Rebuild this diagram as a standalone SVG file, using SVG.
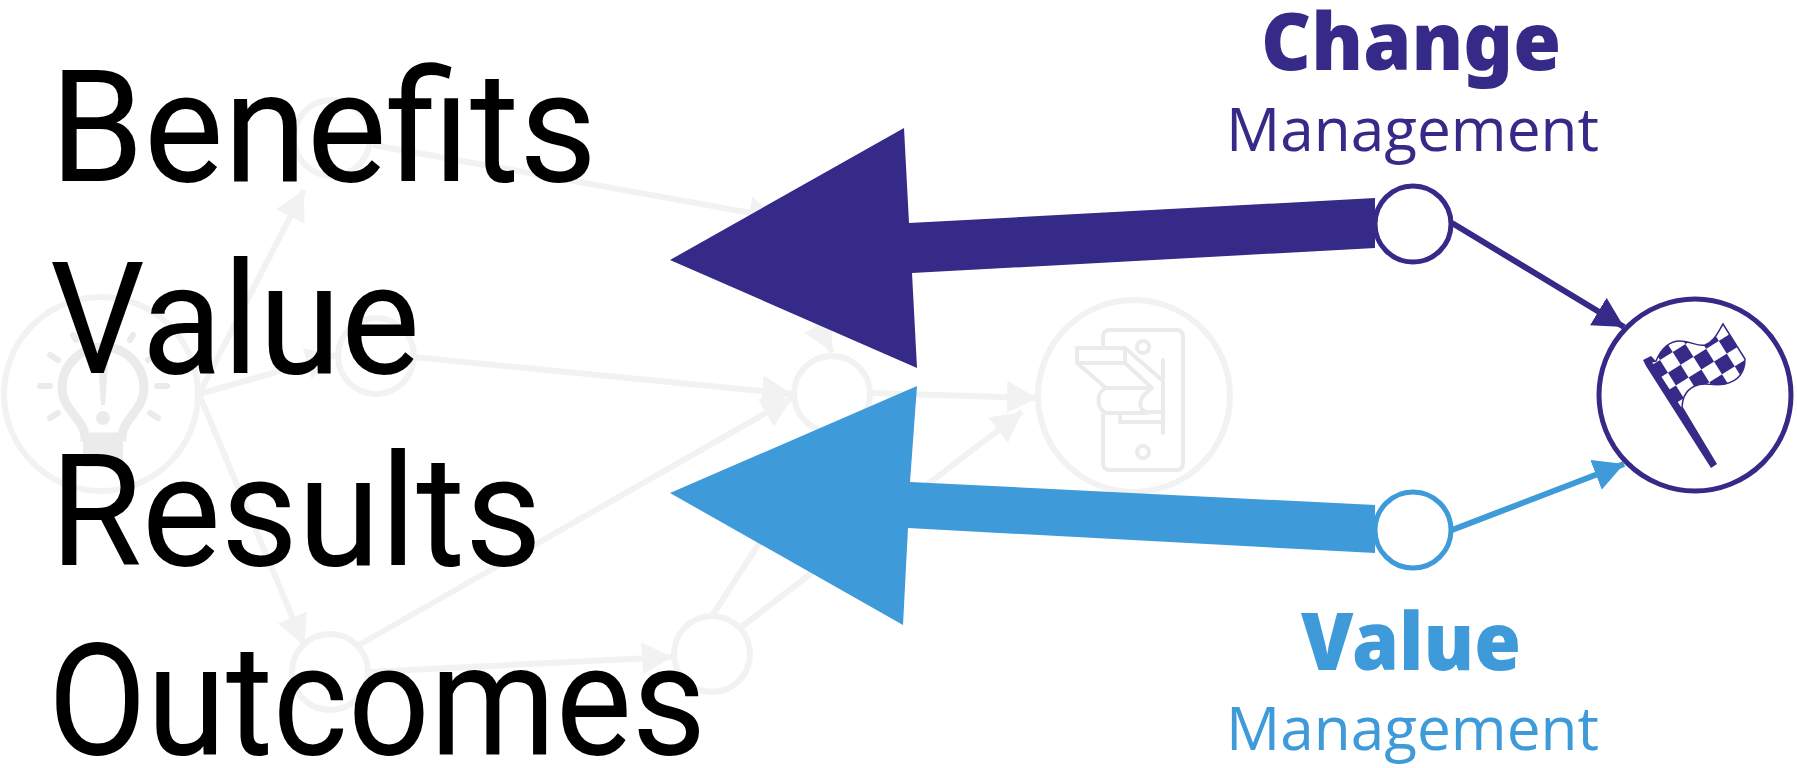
<svg xmlns="http://www.w3.org/2000/svg" width="1797" height="768" viewBox="0 0 1797 768">
<style>
.big{font-family:"Roboto","Liberation Sans",Arial,sans-serif;font-weight:400;font-size:155px;fill:#000}
.hd{font-family:"Noto Sans","Open Sans",sans-serif;font-weight:900;font-size:80px;text-anchor:middle}
.sb{font-family:"Open Sans","Noto Sans",sans-serif;font-size:60px}
.dk{fill:#352a87}.bl{fill:#3e9ad9}
.ge{stroke:#f2f2f2;stroke-width:6;fill:none}
.gn{stroke:#f2f2f2;stroke-width:6;fill:none}
.ic{stroke:#ebebeb;stroke-width:4;fill:none;stroke-linecap:round;stroke-linejoin:round}
</style>
<defs>
<marker id="ga" markerUnits="userSpaceOnUse" markerWidth="34" markerHeight="34" refX="30" refY="16" orient="auto"><path d="M0 0L30 16L0 32Z" fill="#f2f2f2"/></marker>
<marker id="da" markerUnits="userSpaceOnUse" markerWidth="34" markerHeight="34" refX="30" refY="16" orient="auto"><path d="M0 0L30 16L0 32Z" fill="#352a87"/></marker>
<marker id="ba" markerUnits="userSpaceOnUse" markerWidth="34" markerHeight="34" refX="30" refY="16" orient="auto"><path d="M0 0L30 16L0 32Z" fill="#3e9ad9"/></marker>
<pattern id="chk" width="30" height="30" patternUnits="userSpaceOnUse" patternTransform="translate(1660 360) rotate(-32)"><rect width="30" height="30" fill="#352a87"/><rect width="15" height="15" fill="#fff"/><rect x="15" y="15" width="15" height="15" fill="#fff"/></pattern>
</defs>
<g id="connectors">
<path class="ge" marker-end="url(#ga)" d="M199 394L304 190"/>
<path class="ge" marker-end="url(#ga)" d="M199 394L336 355"/>
<path class="ge" marker-end="url(#ga)" d="M199 394L304 645"/>
<path class="ge" marker-end="url(#ga)" d="M373 145L779 218"/>
<path class="ge" marker-end="url(#ga)" d="M790 270L832 352"/>
<path class="ge" marker-end="url(#ga)" d="M413 357L792 394"/>
<path class="ge" marker-end="url(#ga)" d="M359 645L792 398"/>
<path class="ge" marker-end="url(#ga)" d="M367 672L672 657"/>
<path class="ge" d="M712 616L830 434"/>
<path class="ge" marker-end="url(#ga)" d="M740 628L1022 412"/>
<path class="ge" marker-end="url(#ga)" d="M871 393L1037 398"/>
<path stroke="#352a87" stroke-width="6" fill="none" marker-end="url(#da)" d="M1452 223L1624 327"/>
<path stroke="#3e9ad9" stroke-width="6" fill="none" marker-end="url(#ba)" d="M1452 530L1624 464"/>
</g>
<g id="node-idea">
<circle class="gn" cx="101" cy="394" r="97"/>
<path d="M85 437C85 420 62 410 62 388A41 41 0 0 1 144 388C144 410 122 420 122 437Z" fill="none" stroke="#ebebeb" stroke-width="9"/>
<rect x="83" y="437" width="40" height="30" fill="#ebebeb"/>
<path d="M98 363H108L105 405H101Z" fill="#ebebeb"/>
<circle cx="103" cy="418" r="7" fill="#ebebeb"/>
<path d="M40 386H50M157 386H167M50 355L58 360M156 355L148 360M50 418L58 413M158 418L150 413M73 335L76 340M133 335L130 340" stroke="#ebebeb" stroke-width="6" stroke-linecap="round" fill="none"/>
</g>
<g id="node-top"><circle class="gn" cx="332" cy="138" r="38"/></g>
<g id="node-mid"><circle class="gn" cx="376" cy="356" r="38"/></g>
<g id="node-bottom-left"><circle class="gn" cx="330" cy="672" r="38"/></g>
<g id="node-bottom-mid"><circle class="gn" cx="712" cy="654" r="38"/></g>
<g id="node-hub"><circle class="gn" cx="832" cy="394" r="38"/></g>
<g id="node-switch">
<circle class="gn" cx="1134" cy="396" r="96"/>
<path class="ic" d="M1103 345V337Q1103 330 1110 330H1176Q1183 330 1183 337V463Q1183 470 1176 470H1110Q1103 470 1103 463V415"/>
<path class="ic" d="M1077 348H1125V363H1077ZM1125 348L1163 381M1125 363L1152 388M1077 363L1106 388H1152L1147 392C1138 400 1138 410 1147 412H1163M1106 388C1096 392 1096 408 1106 413H1147M1120 413V422H1163M1163 360V433"/>
<circle class="ic" cx="1143" cy="347" r="6"/>
<circle class="ic" cx="1143" cy="452" r="6"/>
</g>
<g id="arrow-change"><path class="dk" d="M670 260L904 128L909 223L1375 198V248L912 273L917 368Z"/></g>
<g id="arrow-value"><path class="bl" d="M670 493L917 386L910 482L1375 505V553L908 528L903 625Z"/></g>
<g id="node-change"><circle cx="1413" cy="224" r="38" fill="#fff" stroke="#352a87" stroke-width="5"/></g>
<g id="node-value"><circle cx="1413" cy="530" r="38" fill="#fff" stroke="#3e9ad9" stroke-width="5"/></g>
<g id="node-goal">
<circle cx="1695" cy="395" r="96" fill="#fff" stroke="#352a87" stroke-width="5"/>
<path d="M1643 360L1651 356L1654 359L1717 464L1711 468L1646 366Z" fill="#352a87"/>
<path d="M1651 362L1656 361C1662 347 1670 341 1680 341C1692 341 1697 347 1705 345C1714 342 1718 332 1723 324L1745 359C1745 372 1738 381 1725 384C1712 387 1705 381 1695 386C1684 391 1682 400 1682 410Z" fill="url(#chk)" stroke="#352a87" stroke-width="1.5"/>
</g>
<g id="labels">
<text class="big" x="50" y="181" textLength="547" lengthAdjust="spacingAndGlyphs">Benefits</text>
<text class="big" x="50" y="373" textLength="370" lengthAdjust="spacingAndGlyphs">Value</text>
<text class="big" x="50" y="565" textLength="492" lengthAdjust="spacingAndGlyphs">Results</text>
<text class="big" x="48" y="754" textLength="658" lengthAdjust="spacingAndGlyphs">Outcomes</text>
<text class="hd dk" x="1411" y="70" textLength="300" lengthAdjust="spacingAndGlyphs">Change</text>
<text class="sb dk" x="1226" y="151" textLength="373" lengthAdjust="spacingAndGlyphs">Management</text>
<text class="hd bl" x="1411" y="670" textLength="220" lengthAdjust="spacingAndGlyphs">Value</text>
<text class="sb bl" x="1226" y="750" textLength="373" lengthAdjust="spacingAndGlyphs">Management</text>
</g>
</svg>
